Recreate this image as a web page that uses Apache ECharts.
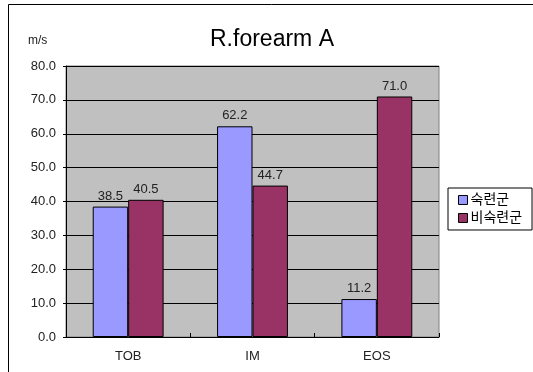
<!DOCTYPE html>
<html>
<head>
<meta charset="utf-8">
<script src="https://cdn.jsdelivr.net/npm/echarts@6/dist/echarts.min.js"></script>
<style>
  html, body { margin: 0; padding: 0; background: #fff; }
  #chart { width: 533px; height: 372px; }
</style>
</head>
<body>
<div id="chart"></div>
<script>
// Categories, series and axis ticks
const categories = ['TOB', 'IM', 'EOS'];
const skilled = [38.5, 62.2, 11.2];     // 숙련군
const unskilled = [40.5, 44.7, 71.0];   // 비숙련군
const yTicks = [0, 10, 20, 30, 40, 50, 60, 70, 80];

const FONT = "'Liberation Sans', 'Noto Sans CJK KR', sans-serif";

const chart = echarts.init(document.getElementById('chart'), null, { renderer: 'canvas' });

const labelStyle = {
  show: true,
  position: 'top',
  distance: 4,
  color: '#222',
  fontSize: 13,
  fontFamily: FONT,
  formatter: p => p.value.toFixed(1)
};

chart.setOption({
  animation: false,
  backgroundColor: '#fff',
  graphic: [
    {
      type: 'rect',
      shape: { x: 8.5, y: 4.5, width: 600, height: 400 },
      style: { fill: 'none', stroke: '#000', lineWidth: 1 },
      silent: true
    },
    {
      type: 'text',
      left: 28, top: 35,
      style: { text: 'm/s', fill: '#222', font: '12px ' + FONT }
    }
  ],
  title: {
    text: 'R.forearm A',
    left: 267,
    textAlign: 'center',
    top: 23,
    textStyle: { color: '#000', fontSize: 23, fontWeight: 'normal', fontFamily: FONT }
  },
  legend: {
    orient: 'vertical',
    left: 448,
    top: 188,
    padding: [5, 10, 5, 10],
    itemGap: 4,
    itemWidth: 9,
    itemHeight: 9,
    backgroundColor: '#fff',
    borderColor: '#000',
    borderWidth: 1,
    borderRadius: 0,
    textStyle: { color: '#000', fontSize: 14, fontFamily: FONT, padding: [0, 0, 0, -2] },
    data: [
      { name: '숙련군', icon: 'rect', itemStyle: { borderColor: '#000', borderWidth: 1 } },
      { name: '비숙련군', icon: 'rect', itemStyle: { borderColor: '#000', borderWidth: 1 } }
    ]
  },
  grid: {
    left: 66, top: 66, width: 373, height: 271,
    show: true,
    backgroundColor: '#C0C0C0',
    borderColor: '#808080',
    borderWidth: 1,
    containLabel: false
  },
  xAxis: {
    type: 'category',
    data: categories,
    axisLine: { lineStyle: { color: '#000', width: 1 } },
    axisTick: { show: true, inside: true, length: 4, lineStyle: { color: '#000' } },
    axisLabel: { color: '#222', fontSize: 13, fontFamily: FONT, margin: 13 },
    splitLine: { show: false }
  },
  yAxis: {
    type: 'value',
    min: yTicks[0],
    max: yTicks[yTicks.length - 1],
    interval: yTicks[1] - yTicks[0],
    axisLine: { show: true, lineStyle: { color: '#000', width: 1 } },
    axisTick: { show: true, length: 3, lineStyle: { color: '#000' } },
    axisLabel: { color: '#222', fontSize: 13, fontFamily: FONT, margin: 10, formatter: v => v.toFixed(1) },
    splitLine: { show: true, lineStyle: { color: '#000', width: 1 } }
  },
  series: [
    {
      name: '숙련군',
      type: 'bar',
      data: skilled,
      barWidth: '28.5%',
      barGap: '0%',
      itemStyle: { color: '#9999FF', borderColor: '#000', borderWidth: 1 },
      label: labelStyle
    },
    {
      name: '비숙련군',
      type: 'bar',
      data: unskilled,
      barWidth: '28.5%',
      barGap: '0%',
      itemStyle: { color: '#993366', borderColor: '#000', borderWidth: 1 },
      label: labelStyle
    }
  ]
});
</script>
</body>
</html>
